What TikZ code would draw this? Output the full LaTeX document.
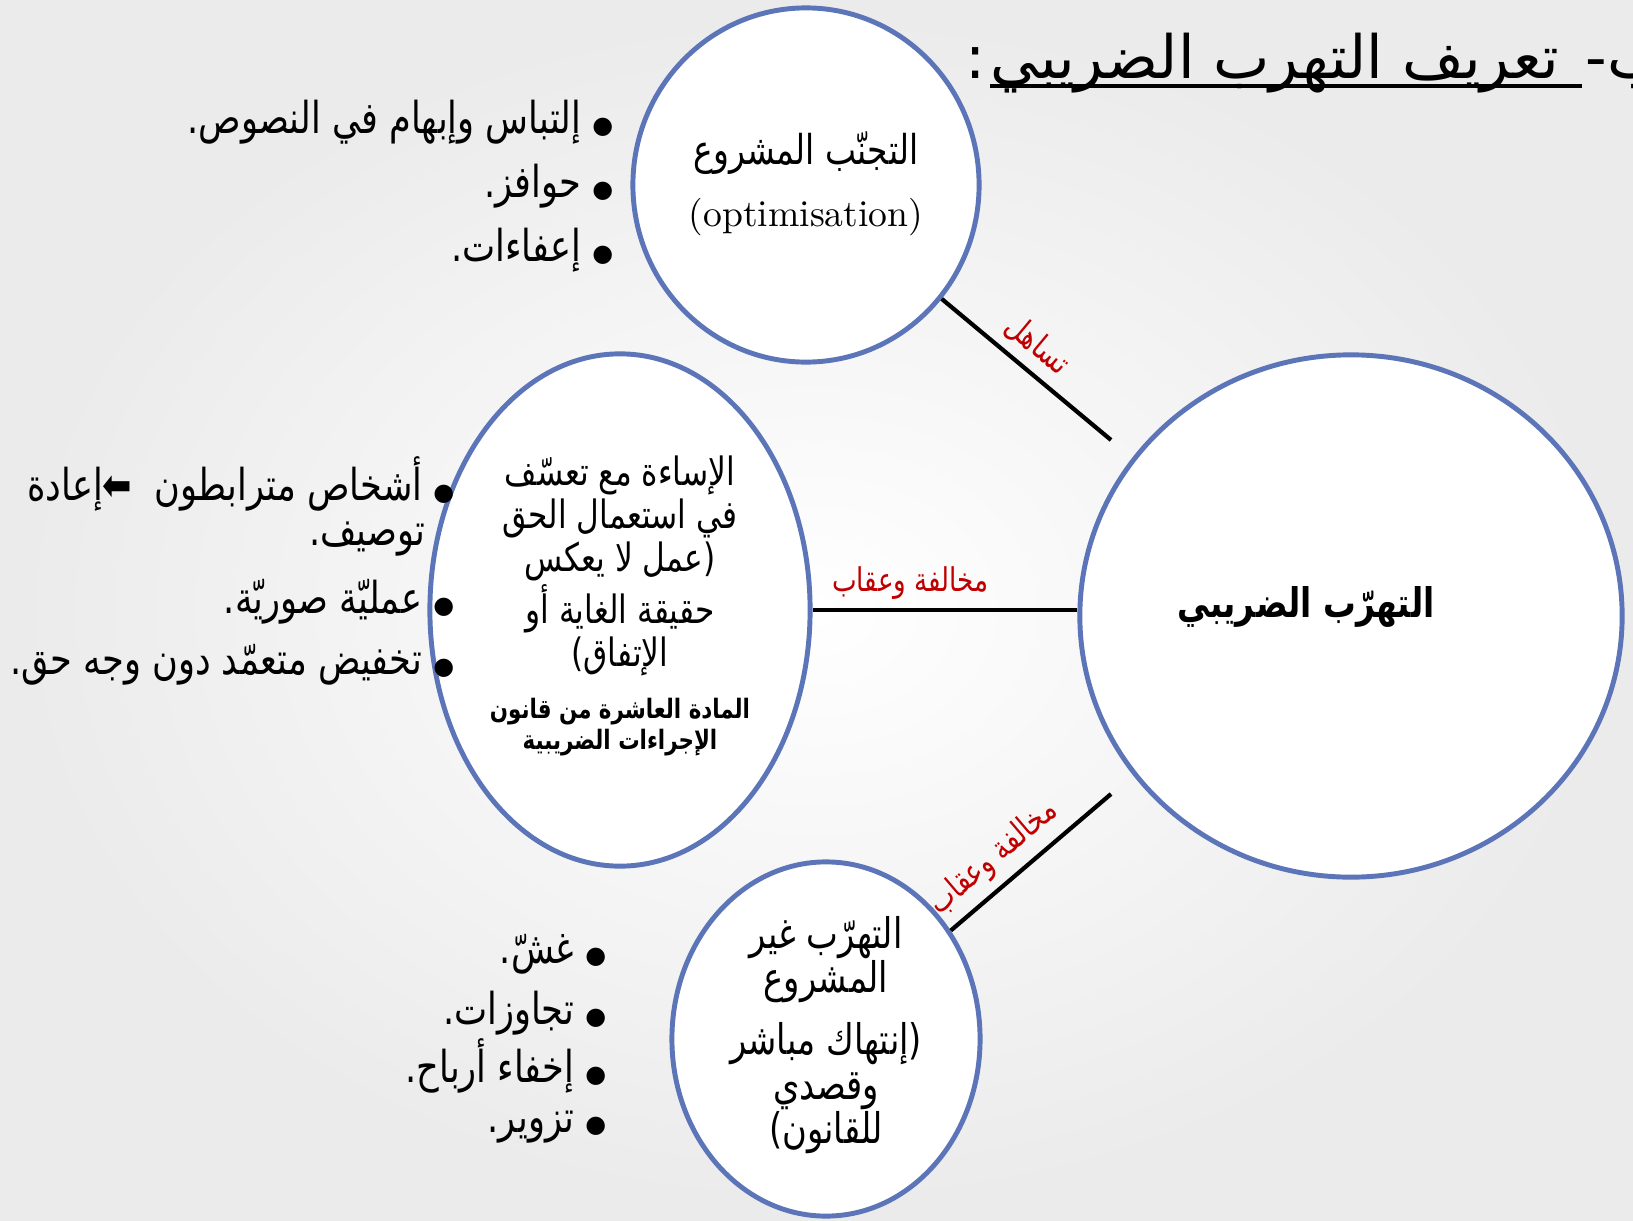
\documentclass[tikz,border=0pt]{standalone}
\usepackage{fontspec}
\usetikzlibrary{shapes.geometric}
\newfontfamily\arabicfont[Script=Arabic,FakeStretch=0.8]{DejaVu Sans}
\newfontfamily\titlefont[Script=Arabic]{DejaVu Sans}
\TeXXeTstate=1
\newcommand\itemdot{{\titlefont\fontsize{6.8}{10}\selectfont ●}}
\definecolor{bubbleblue}{RGB}{92,116,184}
\definecolor{notered}{RGB}{192,0,0}
\tikzset{
  bubble/.style={ellipse, draw=bubbleblue, line width=1.4pt, fill=white, inner sep=0pt},
  bubbletext/.style={align=center, inner sep=0pt},
  link/.style={line width=1.2pt},
  note/.style={text=notered, inner sep=2.5pt, font=\arabicfont\fontsize{9.3}{11}\selectfont},
  listitem/.style={anchor=east, inner sep=0pt, font=\arabicfont\fontsize{12.5}{15}\selectfont},
  titletext/.style={inner sep=0pt, font=\titlefont\fontsize{17}{20}\selectfont},
}

\begin{document}
\begin{tikzpicture}[x=0.01cm,y=-0.01cm]
\useasboundingbox (0,0) rectangle (1633,1221);
\clip (0,0) rectangle (1633,1221);
\shade[inner color=white,outer color=black!8] (0,0) rectangle (1633,1221);

\node[titletext,anchor=base east] (title) at (1560,78) {\beginR تعريف التهرب الضريبي\endR};
\node[titletext,anchor=base east] (colon) at ([xshift=-0.03cm]title.base west) {:};
\node[titletext,anchor=base west] (titlenum) at ([xshift=0.25cm]title.base east) {\beginR ب-\endR};
\draw[line width=0.9pt] ([yshift=-0.08cm]title.base west) -- ([yshift=-0.08cm,xshift=0.22cm]title.base east);

\node[bubble,minimum width=3.46cm,minimum height=3.54cm] (opt) at (806,185) {};
\node[bubbletext] (opttxt) at (806,184)
  {\arabicfont\fontsize{11.7}{14}\selectfont\beginR التجنّب المشروع\endR\\[0.2cm]
   \fontsize{10.7}{14}\selectfont (optimisation)};

\node[bubble,minimum width=3.80cm,minimum height=5.12cm] (abuse) at (620,610) {};
\node[bubbletext,font=\arabicfont\fontsize{11.1}{12.2}\selectfont] (abusetxt) at (620,606)
  {\beginR الإساءة مع تعسّف\endR\\
   \beginR في استعمال الحق\endR\\
   \beginR (عمل لا يعكس\endR\\
   \beginR حقيقة الغاية أو\endR\\
   \beginR الإتفاق)\endR\\[0.1cm]
   {\bfseries\fontsize{7.6}{9.7}\selectfont\beginR المادة  العاشرة من قانون\endR}\\[-0.12cm]
   {\bfseries\fontsize{7.6}{9.7}\selectfont\beginR الإجراءات الضريبية\endR}};

\node[bubble,minimum width=5.42cm,minimum height=5.22cm] (evasion) at (1351,616) {};
\node[font=\arabicfont\bfseries\fontsize{11.6}{14}\selectfont] (evasiontxt) at (1306,607) {\beginR التهرّب الضريبي\endR};

\node[bubble,minimum width=3.08cm,minimum height=3.54cm] (illegal) at (826,1039) {};
\node[bubbletext,font=\arabicfont\fontsize{12}{12.6}\selectfont] (illegaltxt) at (826,1035)
  {\beginR التهرّب غير\endR\\
   \beginR المشروع\endR\\[0.18cm]
   \beginR (إنتهاك مباشر\endR\\
   \beginR وقصدي\endR\\
   \beginR للقانون)\endR};

\coordinate (c1) at (1111,440);
\coordinate (c3) at (1111,794);
\draw[link] (opt.-40) -- node[note,sloped,above,pos=0.47] {\beginR تساهل\endR} (c1);
\draw[link] (abuse.east) -- node[note,above,pos=0.37] {\beginR مخالفة وعقاب\endR} (abuse.east -| evasion.west);
\draw[link] (illegal.41) -- node[note,sloped,above,pos=0.38] {\beginR مخالفة وعقاب\endR} (c3);

\node[listitem] (opt1) at (614,122) {\beginR\itemdot\ إلتباس وإبهام في النصوص.\endR};
\node[listitem] (opt2) at (614,186) {\beginR\itemdot\ حوافز.\endR};
\node[listitem] (opt3) at (614,250) {\beginR\itemdot\ إعفاءات.\endR};

\node[listitem] (abuse1) at (455,484) {\beginR\itemdot\ أشخاص مترابطون \ ⬅إعادة\endR};
\node[listitem] (abuse1b) at (426,539) {\beginR توصيف.\endR};
\node[listitem] (abuse2) at (455,602) {\beginR\itemdot\ عمليّة صوريّة.\endR};
\node[listitem] (abuse3) at (455,665) {\beginR\itemdot\ تخفيض متعمّد دون وجه حق.\endR};

\node[listitem] (ill1) at (607,954) {\beginR\itemdot\ غشّ.\endR};
\node[listitem] (ill2) at (607,1013) {\beginR\itemdot\ تجاوزات.\endR};
\node[listitem] (ill3) at (607,1066) {\beginR\itemdot\ إخفاء أرباح.\endR};
\node[listitem] (ill4) at (607,1127) {\beginR\itemdot\ تزوير.\endR};
\end{tikzpicture}
\end{document}
